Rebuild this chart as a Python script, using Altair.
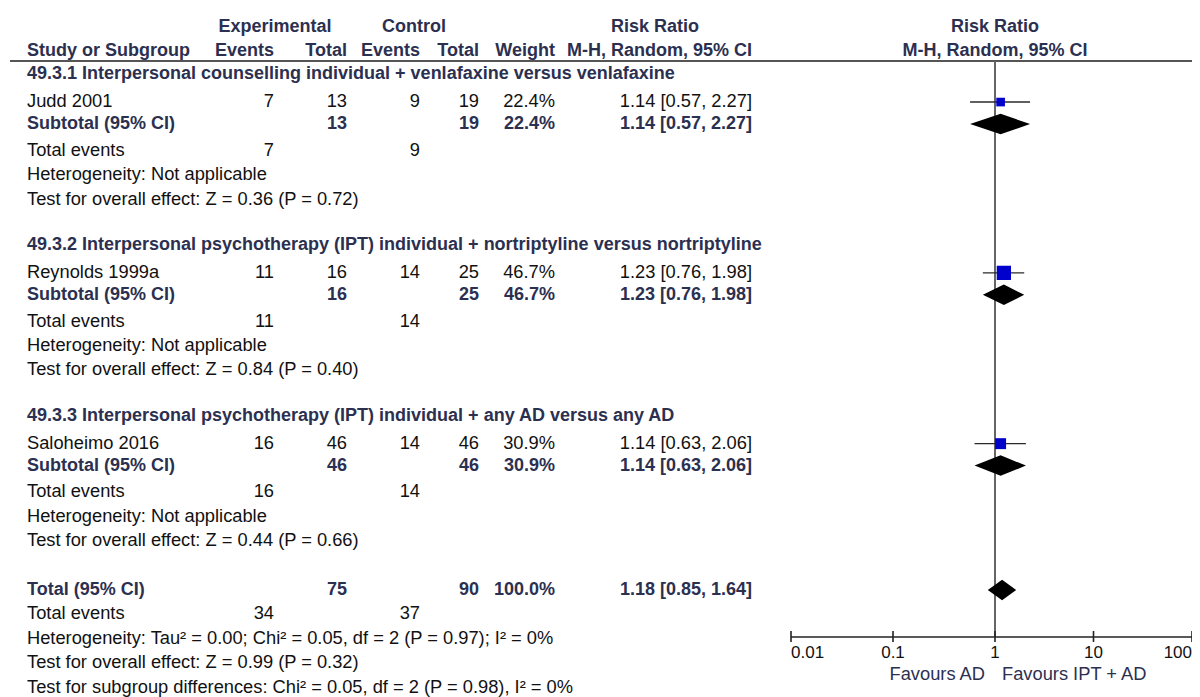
import altair as alt
import pandas as pd

# ---------------- data ----------------
subgroup_titles = [
    "49.3.1 Interpersonal counselling individual + venlafaxine versus venlafaxine",
    "49.3.2 Interpersonal psychotherapy (IPT) individual + nortriptyline versus nortriptyline",
    "49.3.3 Interpersonal psychotherapy (IPT) individual + any AD versus any AD",
]
studies = ["Judd 2001", "Reynolds 1999a", "Saloheimo 2016"]
exp_events = [7, 11, 16]
exp_total = [13, 16, 46]
ctrl_events = [9, 14, 14]
ctrl_total = [19, 25, 46]
weights = [22.4, 46.7, 30.9]
rr = [1.14, 1.23, 1.14]
rr_low = [0.57, 0.76, 0.63]
rr_high = [2.27, 1.98, 2.06]
z_values = [0.36, 0.84, 0.44]
p_values = [0.72, 0.40, 0.66]

total_exp = 75
total_ctrl = 90
total_weight = 100.0
total_events_exp = 34
total_events_ctrl = 37
total_rr = 1.18
total_low = 0.85
total_high = 1.64
total_het = "Heterogeneity: Tau\u00b2 = 0.00; Chi\u00b2 = 0.05, df = 2 (P = 0.97); I\u00b2 = 0%"
total_z = 0.99
total_p = 0.32
subgroup_diff = "Test for subgroup differences: Chi\u00b2 = 0.05, df = 2 (P = 0.98), I\u00b2 = 0%"

axis_ticks = [0.01, 0.1, 1, 10, 100]
axis_tick_labels = ["0.01", "0.1", "1", "10", "100"]
favours_left = "Favours AD"
favours_right = "Favours IPT + AD"

# ---------------- layout ----------------
M = 8
W, H = 1184, 689
ROW = 24.4
Y0 = 66
FONT = "Liberation Sans"
FS = 18.3
FS_B = 18.0
BOLD_COLOR = "#2c3050"
TEXT_COLOR = "#111111"

yscale = alt.Scale(domain=[-Y0 / ROW, (H - Y0) / ROW], range=[0, H], nice=False, zero=False)
xscale = alt.Scale(type="log", domain=[0.01, 1, 100], range=[791 - M, 995 - M, W], nice=False)

COLS = {
    "study": (27, "left"),
    "e_ev": (274, "right"),
    "e_tot": (347, "right"),
    "c_ev": (420, "right"),
    "c_tot": (479, "right"),
    "wt": (555, "right"),
    "rr": (752, "right"),
    "exp_h": (275, "center"),
    "ctl_h": (414, "center"),
    "rr_h": (655, "center"),
    "plot_h": (995, "center"),
}

def ci_text(e, l, h):
    return f"{e:.2f} [{l:.2f}, {h:.2f}]"

cells = []
def add(col, u, text, bold=False):
    cells.append({"col": col, "u": u, "text": str(text), "bold": bold})

# headers
for col, t in [("exp_h", "Experimental"), ("ctl_h", "Control"), ("rr_h", "Risk Ratio"), ("plot_h", "Risk Ratio")]:
    add(col, -1.94, t, True)
for col, t in [("study", "Study or Subgroup"), ("e_ev", "Events"), ("e_tot", "Total"), ("c_ev", "Events"),
               ("c_tot", "Total"), ("wt", "Weight"), ("rr", "M-H, Random, 95% CI"), ("plot_h", "M-H, Random, 95% CI")]:
    add(col, -0.95, t, True)

study_u = []
sub_u = []
for g in range(3):
    b = 7 * g
    add("study", b, subgroup_titles[g], True)
    su = b + 1.15
    study_u.append(su)
    add("study", su, studies[g])
    add("e_ev", su, exp_events[g])
    add("e_tot", su, exp_total[g])
    add("c_ev", su, ctrl_events[g])
    add("c_tot", su, ctrl_total[g])
    add("wt", su, f"{weights[g]:.1f}%")
    add("rr", su, ci_text(rr[g], rr_low[g], rr_high[g]))
    bu = b + 2.05
    sub_u.append(bu)
    add("study", bu, "Subtotal (95% CI)", True)
    add("e_tot", bu, exp_total[g], True)
    add("c_tot", bu, ctrl_total[g], True)
    add("wt", bu, f"{weights[g]:.1f}%", True)
    add("rr", bu, ci_text(rr[g], rr_low[g], rr_high[g]), True)
    add("study", b + 3.15, "Total events")
    add("e_ev", b + 3.15, exp_events[g])
    add("c_ev", b + 3.15, ctrl_events[g])
    add("study", b + 4.15, "Heterogeneity: Not applicable")
    add("study", b + 5.15, f"Test for overall effect: Z = {z_values[g]:.2f} (P = {p_values[g]:.2f})")

tu = 21.15
add("study", tu, "Total (95% CI)", True)
add("e_tot", tu, total_exp, True)
add("c_tot", tu, total_ctrl, True)
add("wt", tu, f"{total_weight:.1f}%", True)
add("rr", tu, ci_text(total_rr, total_low, total_high), True)
add("study", 22.15, "Total events")
add("e_ev", 22.15, total_events_exp)
add("c_ev", 22.15, total_events_ctrl)
add("study", 23.15, total_het)
add("study", 24.15, f"Test for overall effect: Z = {total_z:.2f} (P = {total_p:.2f})")
add("study", 25.15, subgroup_diff)

cells_df = pd.DataFrame(cells)

layers = []

# structural lines
layers.append(
    alt.Chart(pd.DataFrame({"k": [0]})).mark_rule(color="#555555", strokeWidth=2).encode(
        x=alt.value(2), x2=alt.value(W), y=alt.value(61 - M)
    )
)

null_df = pd.DataFrame({"x": [1]})
layers.append(
    alt.Chart(null_df).mark_rule(color="#666666", strokeWidth=2).encode(
        x=alt.X("x:Q", scale=xscale, axis=None), y=alt.value(61 - M), y2=alt.value(637 - M)
    )
)

# text layers
for col, (px, align) in COLS.items():
    for bold in (False, True):
        sub = cells_df[(cells_df["col"] == col) & (cells_df["bold"] == bold)]
        if sub.empty:
            continue
        layers.append(
            alt.Chart(sub).mark_text(
                align=align, baseline="middle", font=FONT,
                fontSize=FS_B if bold else FS,
                fontWeight="bold" if bold else "normal",
                color=BOLD_COLOR if bold else TEXT_COLOR,
            ).encode(
                x=alt.value(px - M),
                y=alt.Y("u:Q", scale=yscale, axis=None),
                text="text:N",
            )
        )

# study CIs and squares
st_df = pd.DataFrame({"study": studies, "rr": rr, "lo": rr_low, "hi": rr_high, "w": weights, "u": study_u})
layers.append(
    alt.Chart(st_df).mark_rule(color="#2a2a2a", strokeWidth=1.4).encode(
        x=alt.X("lo:Q", scale=xscale, axis=None), x2="hi:Q",
        y=alt.Y("u:Q", scale=yscale, axis=None),
    )
)
layers.append(
    alt.Chart(st_df).mark_square(color="#0000cc", opacity=1).encode(
        x=alt.X("rr:Q", scale=xscale, axis=None),
        y=alt.Y("u:Q", scale=yscale, axis=None),
        size=alt.Size("w:Q", scale=alt.Scale(domain=[20, 50], range=[62, 220], zero=False), legend=None),
    )
)

# diamonds
HALF = 0.42
summ = [(f"s{g}", sub_u[g], rr[g], rr_low[g], rr_high[g]) for g in range(3)]
summ.append(("tot", tu, total_rr, total_low, total_high))
pts = []
for did, u, e, l, h in summ:
    pts.append({"id": did, "x": l, "y": u, "y2": u})
    pts.append({"id": did, "x": e, "y": u - HALF, "y2": u + HALF})
    pts.append({"id": did, "x": h, "y": u, "y2": u})
dia_df = pd.DataFrame(pts)
layers.append(
    alt.Chart(dia_df).mark_area(color="black", interpolate="linear", opacity=1).encode(
        x=alt.X("x:Q", scale=xscale, axis=None),
        y=alt.Y("y:Q", scale=yscale, axis=None),
        y2="y2:Q",
        detail="id:N",
    )
)

# axis
ax_df = pd.DataFrame({"lo": [min(axis_ticks)], "hi": [max(axis_ticks)]})
layers.append(
    alt.Chart(ax_df).mark_rule(color="#222222", strokeWidth=1.6).encode(
        x=alt.X("lo:Q", scale=xscale, axis=None), x2="hi:Q", y=alt.value(637 - M)
    )
)
tick_df = pd.DataFrame({"t": axis_ticks, "label": axis_tick_labels})
layers.append(
    alt.Chart(tick_df).mark_rule(color="#222222", strokeWidth=1.6).encode(
        x=alt.X("t:Q", scale=xscale, axis=None), y=alt.value(631 - M), y2=alt.value(642 - M)
    )
)
n = len(axis_ticks)
for sl, al in [(tick_df.iloc[:1], "left"), (tick_df.iloc[1:n - 1], "center"), (tick_df.iloc[n - 1:], "right")]:
    layers.append(
        alt.Chart(sl).mark_text(align=al, baseline="middle", font=FONT, fontSize=17, color=TEXT_COLOR).encode(
            x=alt.X("t:Q", scale=xscale, axis=None), y=alt.value(653 - M), text="label:N"
        )
    )

fav_df = pd.DataFrame({"x": [1], "left": [favours_left], "right": [favours_right]})
layers.append(
    alt.Chart(fav_df).mark_text(align="right", baseline="middle", font=FONT, fontSize=FS, color=BOLD_COLOR, dx=-10).encode(
        x=alt.X("x:Q", scale=xscale, axis=None), y=alt.value(675 - M), text="left:N"
    )
)
layers.append(
    alt.Chart(fav_df).mark_text(align="left", baseline="middle", font=FONT, fontSize=FS, color=BOLD_COLOR, dx=7).encode(
        x=alt.X("x:Q", scale=xscale, axis=None), y=alt.value(675 - M), text="right:N"
    )
)

chart = alt.layer(*layers).properties(
    width=W, height=H, padding=0, autosize=alt.AutoSizeParams(type="none")
).configure(background="white").configure_view(stroke=None)

chart.save("out.html", embed_options={"renderer": "svg", "actions": False})
